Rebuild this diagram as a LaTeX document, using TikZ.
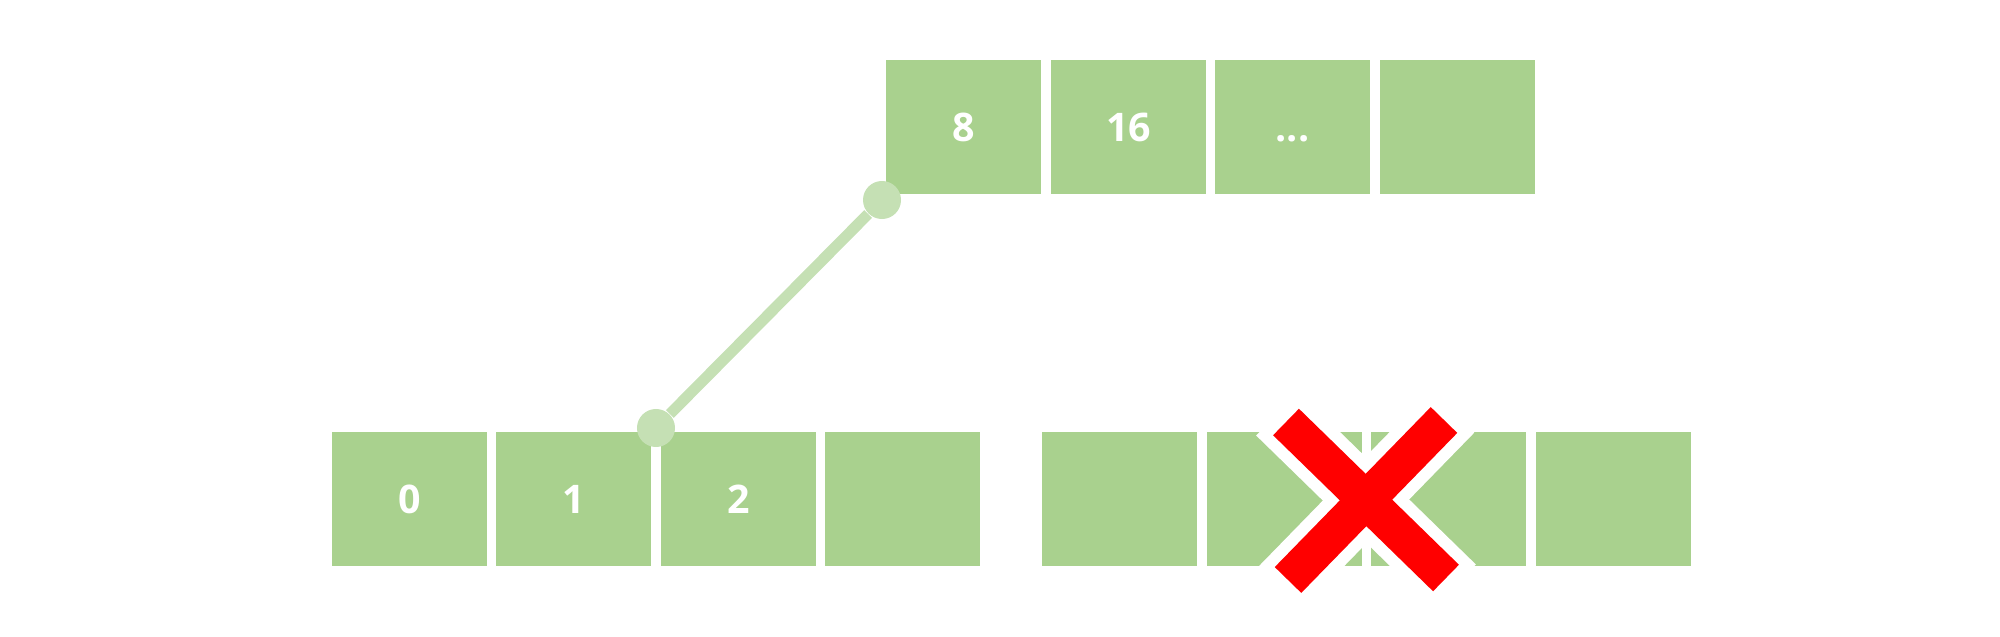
\documentclass[tikz,border=0pt]{standalone}
\usepackage{fontspec}
\setmainfont{Open Sans}
\usetikzlibrary{calc}
\definecolor{boxgreen}{HTML}{A9D18E}
\definecolor{lightgreen}{HTML}{C5E0B4}
\definecolor{xred}{HTML}{FF0000}
\tikzset{
  cellbox/.style={draw=none, fill=boxgreen, minimum width=1.55cm, minimum height=1.34cm,
    inner sep=0pt, text=white, font=\fontsize{11.2}{13}\selectfont\bfseries,
    text height=0.28cm, text depth=0pt},
  pin/.style={circle, fill=lightgreen, draw=none, minimum size=0.38cm, inner sep=0pt},
  link/.style={draw=lightgreen, line width=0.11cm},
  xwhite/.style={draw=white, line width=0.61cm},
  xbar/.style={draw=xred, line width=0.37cm}
}
\begin{document}
\begin{tikzpicture}[x=0.01cm, y=-0.01cm]
\useasboundingbox (0,0) rectangle (2000,637);
% top row
\node[cellbox] (t1) at (963.5,127) {8};
\node[cellbox] (t2) at (1128.5,127) {16};
\node[cellbox] (t3) at (1292.5,127) {...};
\node[cellbox] (t4) at (1457.5,127) {};
% bottom left row
\node[cellbox] (b1) at (409.5,499) {0};
\node[cellbox] (b2) at (573.5,499) {1};
\node[cellbox] (b3) at (738.5,499) {2};
\node[cellbox] (b4) at (902.5,499) {};
% bottom right row
\node[cellbox] (r1) at (1119.5,499) {};
\node[cellbox] (r2) at (1284.5,499) {};
\node[cellbox] (r3) at (1448.5,499) {};
\node[cellbox] (r4) at (1613.5,499) {};
% pointer
\node[pin] (c1) at (656,428) {};
\node[pin] (c2) at (882,200) {};
\draw[link] (c1) -- (c2);
% red cross
\coordinate (xa1) at (1286,422);
\coordinate (xa2) at (1446,578);
\coordinate (xb1) at (1444,420);
\coordinate (xb2) at (1288,580);
\draw[xwhite] ($(xa1)!-0.12cm!(xa2)$) -- ($(xa2)!-0.12cm!(xa1)$);
\draw[xwhite] ($(xb1)!-0.12cm!(xb2)$) -- ($(xb2)!-0.12cm!(xb1)$);
\draw[xbar] (xa1) -- (xa2);
\draw[xbar] (xb1) -- (xb2);
\end{tikzpicture}
\end{document}
